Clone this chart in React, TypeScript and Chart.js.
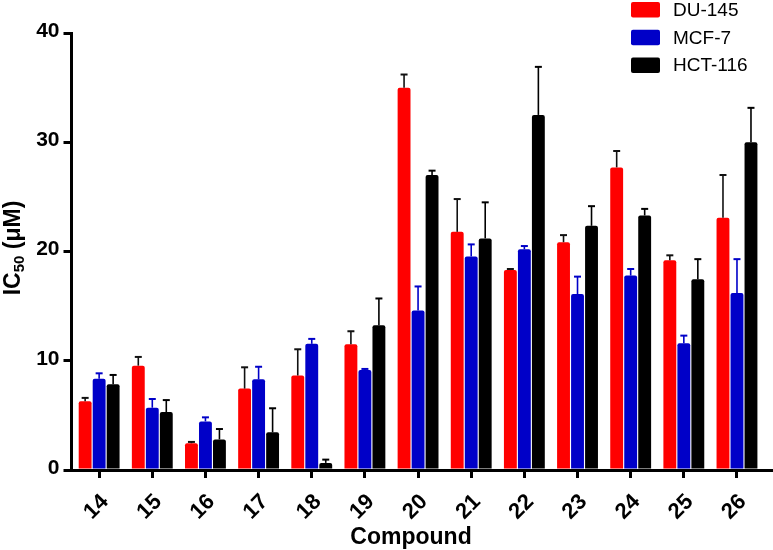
import React, { useEffect, useRef } from "react";
import { Chart, registerables } from "chart.js";

Chart.register(...registerables);

const compounds = ["14", "15", "16", "17", "18", "19", "20", "21", "22", "23", "24", "25", "26"];
const du145 = [6.3, 9.55, 2.45, 7.45, 8.65, 11.5, 35.0, 21.8, 18.3, 20.85, 27.7, 19.2, 23.1];
const du145Err = [0.3, 0.8, 0.12, 1.95, 2.4, 1.2, 1.2, 3.0, 0.1, 0.65, 1.5, 0.45, 3.9];
const mcf7 = [8.35, 5.7, 4.45, 8.3, 11.55, 9.15, 14.6, 19.55, 20.2, 16.1, 17.8, 11.6, 16.2];
const mcf7Err = [0.5, 0.8, 0.37, 1.15, 0.45, 0.1, 2.2, 1.1, 0.3, 1.6, 0.6, 0.7, 3.1];
const hct116 = [7.85, 5.3, 2.8, 3.45, 0.65, 13.25, 27.0, 21.2, 32.5, 22.35, 23.3, 17.45, 30.0];
const hct116Err = [0.85, 1.1, 0.95, 2.2, 0.3, 2.45, 0.4, 3.3, 4.4, 1.8, 0.6, 1.85, 3.15];
const yTicks = [0, 10, 20, 30, 40];

const seriesNames = ["DU-145", "MCF-7", "HCT-116"];
const seriesColors = ["#ff0000", "#0000c8", "#000000"];
const errColors = ["#111111", "#0000c8", "#000000"];
const FONT = "'Liberation Sans', Arial, sans-serif";

const errorBarPlugin = {
  id: "errorBars",
  afterDatasetsDraw(chart: any) {
    const ctx = chart.ctx;
    const yScale = chart.scales.y;
    chart.data.datasets.forEach((ds: any, di: number) => {
      const meta = chart.getDatasetMeta(di);
      meta.data.forEach((bar: any, i: number) => {
        const v = ds.values[i] + ds.errors[i];
        const yTop = yScale.getPixelForValue(v);
        ctx.save();
        ctx.strokeStyle = ds.errColor;
        ctx.lineWidth = 1.6;
        ctx.beginPath();
        ctx.moveTo(bar.x, bar.y);
        ctx.lineTo(bar.x, yTop);
        ctx.stroke();
        ctx.lineWidth = 2;
        ctx.beginPath();
        ctx.moveTo(bar.x - 3.5, yTop);
        ctx.lineTo(bar.x + 3.5, yTop);
        ctx.stroke();
        ctx.restore();
      });
    });
  },
};

const decorPlugin = {
  id: "decor",
  afterDraw(chart: any) {
    const ctx = chart.ctx;
    ctx.save();
    // legend
    seriesNames.forEach((name, i) => {
      const top = 2 + i * 27.8;
      ctx.fillStyle = seriesColors[i];
      ctx.beginPath();
      (ctx as any).roundRect(631, top, 29, 15.5, 2);
      ctx.fill();
      ctx.fillStyle = "#000";
      ctx.font = `19px ${FONT}`;
      ctx.textAlign = "left";
      ctx.textBaseline = "middle";
      ctx.fillText(name, 673, top + 8.5);
    });
    // x title
    ctx.font = `bold 23px ${FONT}`;
    ctx.textAlign = "center";
    ctx.textBaseline = "alphabetic";
    ctx.fillStyle = "#000";
    ctx.fillText("Compound", 411, 544);
    // y title with subscript
    ctx.translate(20, 248);
    ctx.rotate(-Math.PI / 2);
    const big = `bold 23px ${FONT}`;
    const small = `bold 15px ${FONT}`;
    ctx.textAlign = "left";
    ctx.font = big;
    const w1 = ctx.measureText("IC").width;
    const w3 = ctx.measureText(" (\u03bcM)").width;
    ctx.font = small;
    const w2 = ctx.measureText("50").width;
    let x = -(w1 + w2 + w3) / 2;
    ctx.font = big;
    ctx.fillText("IC", x, 0);
    x += w1;
    ctx.font = small;
    ctx.fillText("50", x, 4);
    x += w2;
    ctx.font = big;
    ctx.fillText(" (\u03bcM)", x, 0);
    ctx.restore();
  },
};

export default function App() {
  const ref = useRef<HTMLCanvasElement>(null);
  useEffect(() => {
    if (!ref.current) return;
    const sets = [
      { v: du145, e: du145Err },
      { v: mcf7, e: mcf7Err },
      { v: hct116, e: hct116Err },
    ];
    const chart = new Chart(ref.current, {
      type: "bar",
      data: {
        datasets: sets.map((s, i) => ({
          label: seriesNames[i],
          data: s.v.map((val, k) => ({ x: k, y: val })),
          values: s.v,
          errors: s.e,
          errColor: errColors[i],
          backgroundColor: seriesColors[i],
          borderWidth: 0,
          borderRadius: { topLeft: 2, topRight: 2, bottomLeft: 0, bottomRight: 0 },
          borderSkipped: "start",
          categoryPercentage: 0.79,
          barPercentage: 0.92,
        })) as any,
      },
      options: {
        animation: false,
        responsive: false,
        devicePixelRatio: 1,
        layout: { padding: { top: 33, right: 2, left: 0, bottom: 0 } },
        plugins: { legend: { display: false }, tooltip: { enabled: false }, title: { display: false } },
        scales: {
          x: {
            type: "linear",
            min: -0.52,
            max: 12.64,
            offset: false,
            afterBuildTicks: (scale: any) => {
              scale.ticks = compounds.map((_, i) => ({ value: i }));
            },
            afterFit: (scale: any) => {
              scale.height = 80;
            },
            ticks: {
              autoSkip: false,
              maxRotation: 45,
              minRotation: 45,
              padding: 11,
              labelOffset: 6,
              color: "#000",
              font: { family: FONT, size: 22, weight: "bold" },
              callback: (value: any) => compounds[value] ?? "",
            },
            grid: { drawOnChartArea: false, drawTicks: true, tickLength: 8, lineWidth: 3, color: "#000", offset: false },
            border: { display: true, width: 3, color: "#000" },
          } as any,
          y: {
            min: 0,
            max: 40,
            afterBuildTicks: (scale: any) => {
              scale.ticks = yTicks.map((v) => ({ value: v }));
            },
            afterFit: (scale: any) => {
              scale.width = 71.5;
            },
            ticks: {
              padding: 4,
              labelOffset: -2,
              color: "#000",
              font: { family: FONT, size: 21, weight: "bold" },
            },
            grid: { drawOnChartArea: false, drawTicks: true, tickLength: 8, lineWidth: 3, color: "#000" },
            border: { display: true, width: 3, color: "#000" },
          } as any,
        },
      },
      plugins: [errorBarPlugin, decorPlugin],
    });
    return () => chart.destroy();
  }, []);
  return (
    <div style={{ position: "fixed", left: 0, top: 0, width: 773, height: 550, background: "#fff" }}>
      <canvas ref={ref} width={773} height={550} />
    </div>
  );
}
